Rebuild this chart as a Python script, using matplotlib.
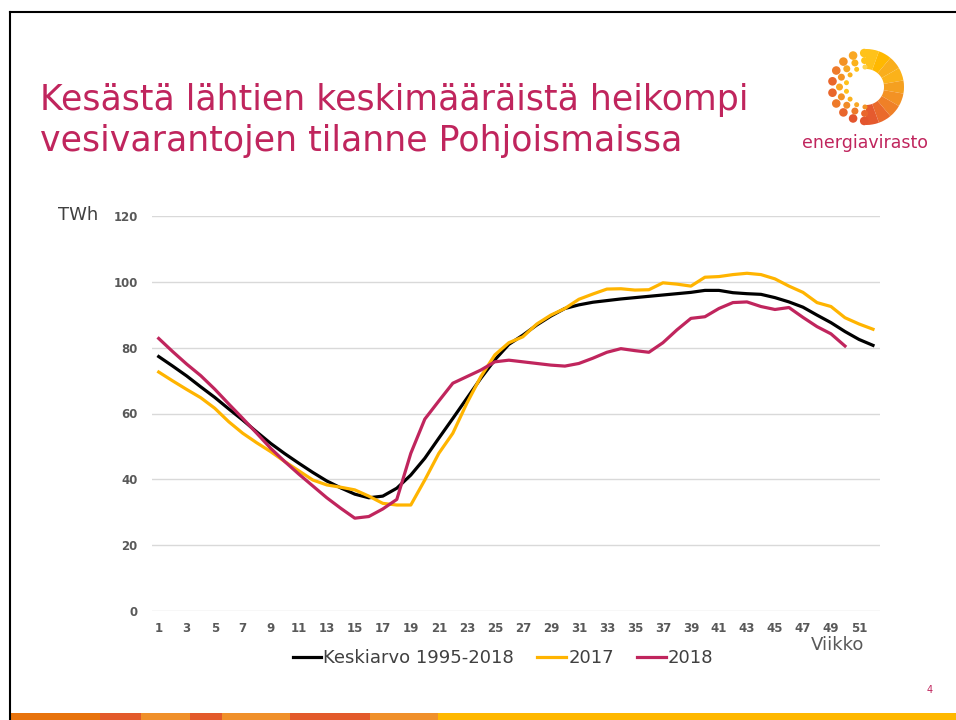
import numpy as np
import matplotlib.pyplot as plt
from matplotlib.patches import Wedge, Circle, Rectangle
from matplotlib.lines import Line2D

# Data (TWh) per week
weeks = list(range(1, 53))
avg_1995_2018 = [77.3, 74.4, 71.4, 68.1, 64.9, 61.4, 58.0, 54.4, 50.9, 47.8,
                 44.9, 42.1, 39.5, 37.4, 35.5, 34.4, 34.9, 37.3, 41.3, 46.4,
                 52.5, 58.5, 64.6, 70.7, 76.3, 81.0, 83.8, 86.9, 89.6, 91.9,
                 93.0, 93.8, 94.3, 94.8, 95.2, 95.6, 96.0, 96.4, 96.8, 97.4,
                 97.4, 96.7, 96.4, 96.2, 95.2, 93.9, 92.3, 89.9, 87.6, 84.9,
                 82.5, 80.7]
y2017 = [72.6, 69.9, 67.3, 64.8, 61.6, 57.5, 54.0, 51.1, 48.4, 45.4,
         42.6, 39.8, 38.3, 37.6, 36.8, 34.9, 32.7, 32.2, 32.2, 39.8,
         47.9, 54.0, 63.1, 71.2, 77.8, 81.5, 83.3, 87.2, 89.9, 91.9,
         94.7, 96.3, 97.8, 97.9, 97.5, 97.6, 99.7, 99.3, 98.7, 101.4,
         101.6, 102.2, 102.6, 102.2, 100.9, 98.7, 96.8, 93.7, 92.5, 89.1,
         87.2, 85.6]
y2018 = [82.8, 78.8, 75.0, 71.5, 67.4, 62.9, 58.5, 54.0, 49.4, 45.4,
         41.6, 38.0, 34.4, 31.2, 28.2, 28.7, 31.0, 33.9, 47.9, 58.3,
         63.8, 69.2, 71.2, 73.2, 75.7, 76.2, 75.7, 75.2, 74.7, 74.4,
         75.2, 76.8, 78.6, 79.7, 79.1, 78.6, 81.5, 85.4, 88.9, 89.4,
         91.9, 93.7, 93.9, 92.5, 91.6, 92.2, 89.2, 86.4, 84.2, 80.5]
weeks_2018 = weeks[:len(y2018)]

series_names = ['Keskiarvo 1995-2018', '2017', '2018']
colors = ['#000000', '#FFB400', '#C0255D']
title_color = '#C0255D'
gray = '#595959'

fig = plt.figure(figsize=(9.56, 7.2), dpi=100)

# slide frame
fig.add_artist(Line2D([10 / 956, 10 / 956], [0, 1 - 12 / 720], color='black', lw=1.5))
fig.add_artist(Line2D([10 / 956, 1], [1 - 12 / 720, 1 - 12 / 720], color='black', lw=1.5))

# bottom colour stripe
stripe = [(10, 100, '#E8730C'), (100, 141, '#E35A2B'), (141, 190, '#F0902A'),
          (190, 222, '#E35A2B'), (222, 290, '#F0902A'), (290, 370, '#E35A2B'),
          (370, 438, '#F0902A'), (438, 956, '#FFB800')]
for x0, x1, c in stripe:
    fig.add_artist(Rectangle((x0 / 956, 0), (x1 - x0) / 956, 7 / 720,
                             transform=fig.transFigure, color=c, lw=0))

# title
fig.text(40 / 956, 1 - 100 / 720, 'Kesästä lähtien keskimääräistä heikompi',
         color=title_color, fontsize=25, va='center', ha='left')
fig.text(40 / 956, 1 - 141 / 720, 'vesivarantojen tilanne Pohjoismaissa',
         color=title_color, fontsize=25, va='center', ha='left')

# logo (y axis points up, centre of ring at pixel y=87)
lax = fig.add_axes([795 / 956, 1 - 160 / 720, 140 / 956, 120 / 720])
lax.set_xlim(795, 935)
lax.set_ylim(-160, -40)
lax.set_aspect('equal')
lax.axis('off')
cx, cy, r_out, r_in = 866, -87, 38, 18
wedge_cols = ['#FFC21A', '#FFB800', '#F9AE1C', '#FBB21A', '#F5A020', '#F39224',
              '#EF8027', '#EA6A2B', '#E55A2E']
n_w = len(wedge_cols)
for i, c in enumerate(wedge_cols):
    a0 = 90 - i * 180 / n_w
    lax.add_patch(Wedge((cx, cy), r_out, a0 - 180 / n_w, a0, width=r_out - r_in,
                        color=c, lw=0))
rings = [(34.0, 4.3, ['#FFC21A', '#F9A825', '#F39224', '#EE7A2A', '#E9662C',
                      '#E9662C', '#EE7A2A', '#E9662C', '#E3552E', '#E3552E']),
         (26.5, 3.5, ['#FFC21A', '#FBB21A', '#F7A823', '#F39224', '#F9A825',
                      '#F39224', '#F18B27', '#EE7A2A', '#E9662C']),
         (20.0, 2.5, ['#FFD34D', '#FFC21A', '#FBB21A', '#FFC21A', '#FFC21A',
                      '#FBB21A', '#F9A825', '#F39224'])]
for rr, sz, cols in rings:
    for k, col in enumerate(cols):
        ang = np.deg2rad(93 + k * 174 / (len(cols) - 1))
        lax.add_patch(Circle((cx + rr * np.cos(ang), cy + rr * np.sin(ang)), sz,
                             color=col, lw=0))
lax.text(865, -143, 'energiavirasto', color=title_color, fontsize=12.5,
         ha='center', va='center')

# chart
ax = fig.add_axes([151.7 / 956, 1 - 611 / 720, 728.3 / 956, 395 / 720])
ax.plot(weeks, avg_1995_2018, color=colors[0], lw=2.3, label=series_names[0])
ax.plot(weeks, y2017, color=colors[1], lw=2.3, label=series_names[1])
ax.plot(weeks_2018, y2018, color=colors[2], lw=2.3, label=series_names[2])

ax.set_xlim(0.5, 52.5)
ax.set_ylim(0, 120)
ax.set_yticks(range(0, 121, 20))
ax.set_xticks(range(1, 52, 2))
ax.grid(axis='y', color='#D9D9D9', lw=1)
ax.set_axisbelow(True)
for s in ax.spines.values():
    s.set_visible(False)
ax.tick_params(length=0, labelsize=8.5, labelcolor=gray)
ax.tick_params(axis='y', pad=10)
ax.tick_params(axis='x', pad=8)
for lab in ax.get_xticklabels() + ax.get_yticklabels():
    lab.set_fontweight('bold')

fig.text(58 / 956, 1 - 215 / 720, 'TWh', fontsize=13, color='#404040',
         va='center', ha='left')
fig.text(838 / 956, 1 - 645 / 720, 'Viikko', fontsize=13, color=gray,
         va='center', ha='center')

fig.legend(loc='center', bbox_to_anchor=(503 / 956, 1 - 658 / 720), ncol=3,
           frameon=False, fontsize=13, handlelength=1.6, handletextpad=0.1,
           columnspacing=1.3, labelcolor='#404040')

fig.text(930 / 956, 1 - 690 / 720, '4', fontsize=7, color=title_color,
         ha='center', va='center')

fig.savefig('out.png', dpi=100)
